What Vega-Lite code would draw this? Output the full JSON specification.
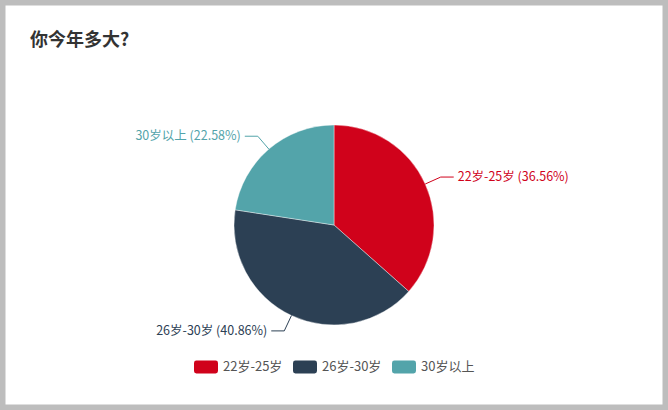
{
  "$schema": "https://vega.github.io/schema/vega-lite/v6.json",
  "width": 668,
  "height": 410,
  "autosize": "none",
  "padding": 0,
  "background": "white",
  "title": {
    "text": "你今年多大?",
    "anchor": "start",
    "frame": "group",
    "orient": "top",
    "offset": -64,
    "dx": 30,
    "baseline": "alphabetic",
    "font": "Noto Sans CJK SC",
    "fontSize": 18,
    "fontWeight": "bold",
    "color": "#333333"
  },
  "data": {
    "values": [
      {"group": "22岁-25岁", "value": 36.56, "order": 1},
      {"group": "26岁-30岁", "value": 40.86, "order": 2},
      {"group": "30岁以上", "value": 22.58, "order": 3}
    ]
  },
  "transform": [
    {"joinaggregate": [{"op": "sum", "field": "value", "as": "total"}]},
    {"stack": "value", "groupby": [], "sort": [{"field": "order", "order": "ascending"}], "as": ["v0", "v1"]},
    {"calculate": "PI * (datum.v0 + datum.v1) / datum.total", "as": "mid"},
    {"calculate": "sin(datum.mid)", "as": "sx"},
    {"calculate": "cos(datum.mid)", "as": "cy"},
    {"calculate": "100 * datum.sx", "as": "ex"},
    {"calculate": "100 * datum.cy", "as": "ey"},
    {"calculate": "117 * datum.sx", "as": "bx"},
    {"calculate": "117 * datum.cy", "as": "by"},
    {"calculate": "datum.bx + (datum.sx > 0 ? 13 : -13)", "as": "tx"},
    {"calculate": "datum.tx + (datum.sx > 0 ? 4 : -4)", "as": "lx"},
    {"calculate": "datum.group + ' (' + format(datum.value, '.2f') + '%)'", "as": "label"}
  ],
  "encoding": {
    "color": {
      "field": "group",
      "type": "nominal",
      "scale": {
        "domain": ["22岁-25岁", "26岁-30岁", "30岁以上"],
        "range": ["#d0021b", "#2c4054", "#53a4aa"]
      },
      "legend": {
        "orient": "none",
        "direction": "horizontal",
        "legendX": 194,
        "legendY": 355,
        "title": null,
        "padding": 0,
        "symbolType": "M-0.8,-0.54 L0.8,-0.54 Q1,-0.54 1,-0.34 L1,0.34 Q1,0.54 0.8,0.54 L-0.8,0.54 Q-1,0.54 -1,0.34 L-1,-0.34 Q-1,-0.54 -0.8,-0.54 Z",
        "symbolSize": 576,
        "symbolOpacity": 1,
        "symbolStrokeWidth": 0,
        "labelFont": "Noto Sans CJK SC",
        "labelFontSize": 13,
        "labelColor": "#555555",
        "labelOffset": 5,
        "columnPadding": 10
      }
    }
  },
  "layer": [
    {
      "mark": {"type": "arc", "outerRadius": 100, "stroke": "white", "strokeWidth": 0.4},
      "encoding": {
        "x": {"datum": 0, "type": "quantitative", "scale": {"domain": [-334, 334], "nice": false, "zero": false}, "axis": null},
        "y": {"datum": 0, "type": "quantitative", "scale": {"domain": [-185, 225], "nice": false, "zero": false}, "axis": null},
        "theta": {"field": "value", "type": "quantitative", "stack": true},
        "order": {"field": "order", "type": "quantitative"}
      }
    },
    {
      "mark": {"type": "rule", "strokeWidth": 1},
      "encoding": {
        "x": {"field": "ex", "type": "quantitative"},
        "y": {"field": "ey", "type": "quantitative"},
        "x2": {"field": "bx"},
        "y2": {"field": "by"}
      }
    },
    {
      "mark": {"type": "rule", "strokeWidth": 1},
      "encoding": {
        "x": {"field": "bx", "type": "quantitative"},
        "y": {"field": "by", "type": "quantitative"},
        "x2": {"field": "tx"}
      }
    },
    {
      "transform": [{"filter": "datum.sx > 0"}],
      "mark": {"type": "text", "align": "left", "baseline": "middle", "font": "Noto Sans CJK SC", "fontSize": 12.5},
      "encoding": {
        "x": {"field": "lx", "type": "quantitative"},
        "y": {"field": "by", "type": "quantitative"},
        "text": {"field": "label"}
      }
    },
    {
      "transform": [{"filter": "datum.sx < 0"}],
      "mark": {"type": "text", "align": "right", "baseline": "middle", "font": "Noto Sans CJK SC", "fontSize": 12.5},
      "encoding": {
        "x": {"field": "lx", "type": "quantitative"},
        "y": {"field": "by", "type": "quantitative"},
        "text": {"field": "label"}
      }
    }
  ],
  "config": {
    "view": {"stroke": "#bdbdbd", "strokeWidth": 11, "fill": "white"}
  }
}
